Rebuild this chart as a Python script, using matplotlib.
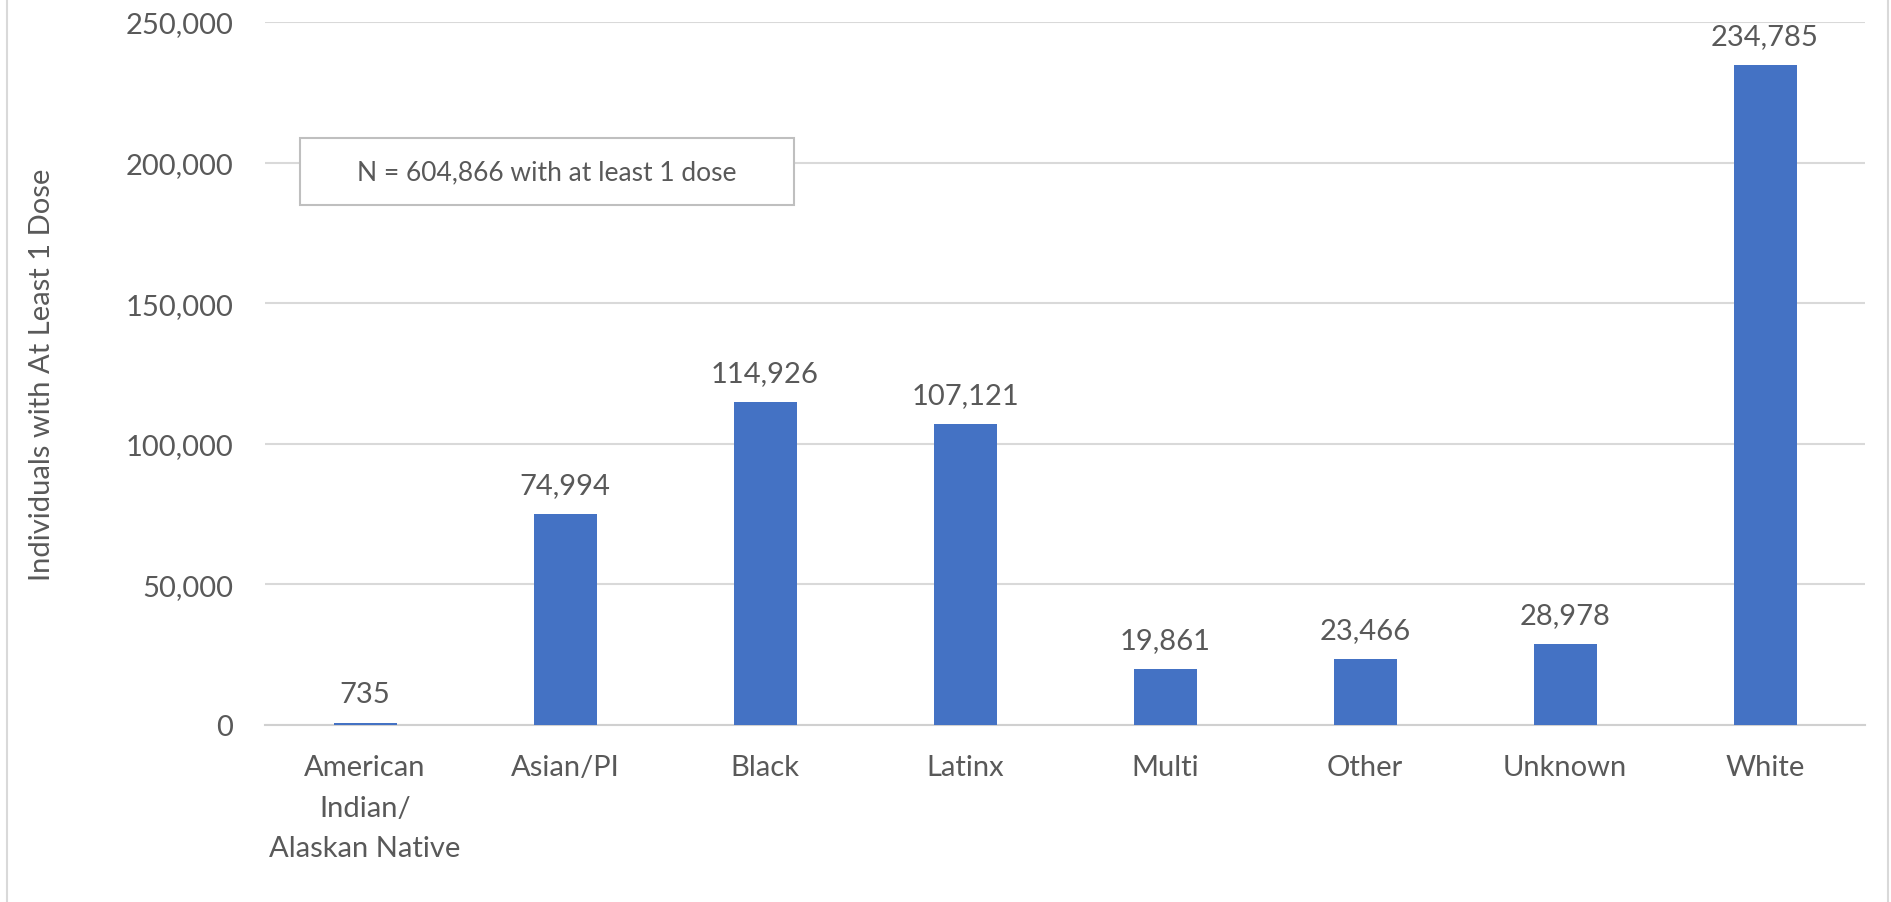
import numpy as np
import matplotlib.pyplot as plt
from matplotlib.patches import Rectangle
from matplotlib.lines import Line2D

# Datos del gráfico
categories = ['American\nIndian/\nAlaskan Native', 'Asian/PI', 'Black', 'Latinx',
              'Multi', 'Other', 'Unknown', 'White']
doses = [735, 74994, 114926, 107121, 19861, 23466, 28978, 234785]
yticks = [0, 50000, 100000, 150000, 200000, 250000]
note = 'N = 604,866 with at least 1 dose'

bar_color = '#4472C4'
text_color = '#595959'
grid_color = '#D9D9D9'

plt.rcParams['font.family'] = ['Lato', 'DejaVu Sans']

fig = plt.figure(figsize=(18.91, 9.03), dpi=100)
ax = fig.add_axes([265 / 1891, 1 - 726 / 903, 1600 / 1891, 703 / 903])

x = np.arange(len(categories))
ax.bar(x, doses, width=0.315, color=bar_color, zorder=3)

# Etiquetas de valores
for xi, v in zip(x, doses):
    ax.annotate(f'{v:,}', (xi, v), xytext=(0, 15), textcoords='offset points',
                ha='center', va='baseline', fontsize=21, color=text_color)

ax.set_xlim(-0.5, len(categories) - 0.5)
ax.set_ylim(0, 250000)
ax.set_yticks(yticks)
ax.set_yticklabels([f'{t:,}' for t in yticks], fontsize=21, color=text_color)
ax.set_xticks(x)
ax.set_xticklabels(categories, fontsize=21, color=text_color, linespacing=1.69)
ax.tick_params(axis='both', length=0)
ax.tick_params(axis='y', pad=23)
ax.tick_params(axis='x', pad=21)

ax.yaxis.grid(True, color=grid_color, linewidth=1.5, zorder=0)
ax.set_axisbelow(True)
for s in ['top', 'right', 'left']:
    ax.spines[s].set_visible(False)
ax.spines['bottom'].set_color('#D0D0D0')
ax.spines['bottom'].set_linewidth(1.5)

ax.set_ylabel('Individuals with At Least 1 Dose', fontsize=21, color=text_color)
ax.yaxis.set_label_coords(-0.131, 0.5)

# Cuadro de texto con el total
ax.add_patch(Rectangle((0.0219, 0.740), 0.309, 0.095, transform=ax.transAxes,
                       fc='white', ec='#BFBFBF', lw=1.5, zorder=5))
ax.text(0.0219 + 0.309 / 2, 0.740 + 0.095 / 2, note, transform=ax.transAxes,
        ha='center', va='center', fontsize=19, color=text_color, zorder=6)

# Bordes laterales del gráfico
fig.add_artist(Line2D([7 / 1891, 7 / 1891], [0, 1], transform=fig.transFigure,
                      color='#D9D9D9', lw=1.5))
fig.add_artist(Line2D([1888 / 1891, 1888 / 1891], [0, 1], transform=fig.transFigure,
                      color='#D9D9D9', lw=1.5))

fig.savefig('out.png', dpi=100)
